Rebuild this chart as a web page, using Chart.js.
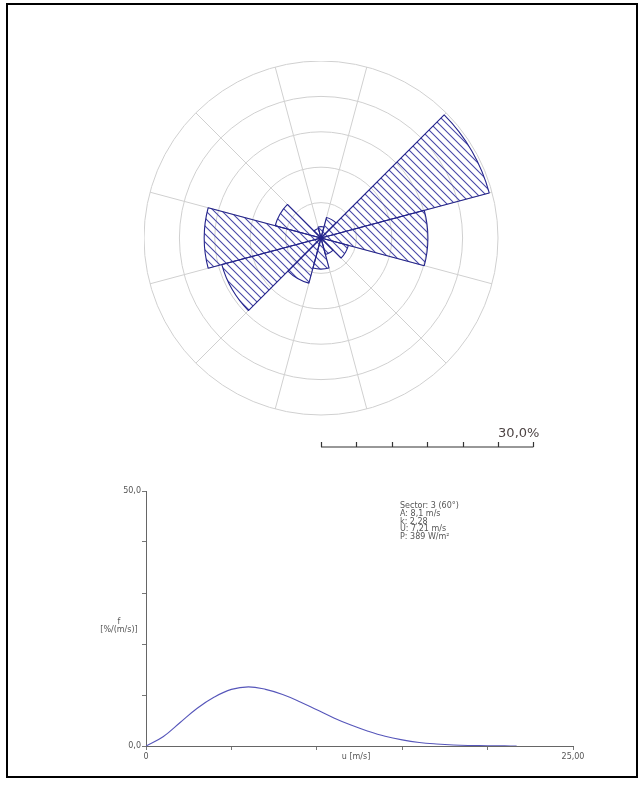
<!DOCTYPE html>
<html>
<head>
<meta charset="utf-8">
<script src="https://cdn.jsdelivr.net/npm/chart.js@4.4.1/dist/chart.umd.min.js"></script>
<style>
  html, body { margin: 0; padding: 0; background: #fff; }
  body { width: 644px; height: 785px; position: relative; overflow: hidden; font-family: "DejaVu Sans", Verdana, sans-serif; }
  #frame { position: absolute; left: 6px; top: 3px; width: 632px; height: 775px; border: 2px solid #000; box-sizing: border-box; }
  #roseBox { position: absolute; left: 144px; top: 61px; width: 410px; height: 400px; }
  #weibullBox { position: absolute; left: 0; top: 470px; width: 644px; height: 300px; }
  #info { position: absolute; left: 400px; top: 502px; font-size: 8px; line-height: 7.8px; color: #555; white-space: pre; }
</style>
</head>
<body>
<div id="frame"></div>
<div id="roseBox"><canvas id="rose" width="410" height="400"></canvas></div>
<div id="weibullBox"><canvas id="weibull" width="644" height="300"></canvas></div>
<div id="info"></div>

<script>
// wind rose: 12 sectors, frequency in %
const sectorLabels = ["0°", "30°", "60°", "90°", "120°", "150°", "180°", "210°", "240°", "270°", "300°", "330°"];
const sectorFreq = [1.6, 3.0, 24.6, 15.1, 4.0, 2.4, 4.4, 6.6, 14.5, 16.5, 6.7, 1.4];
const roseMax = 25;
const roseStep = 5;
const scaleBarTicks = [0, 5, 10, 15, 20, 25, 30];
const scaleBarLabel = "30,0%";

// weibull curve for the selected sector
const windSpeed = [0, 1, 2, 3, 4, 5, 6, 7, 8, 9, 10, 11, 12, 13, 14, 15, 16, 17, 18, 19, 20, 21, 21.7];
const freqDensity = [0, 1.8, 4.6, 7.4, 9.6, 11.1, 11.6, 11.1, 10.1, 8.7, 7.1, 5.5, 4.1, 2.9, 1.9, 1.2, 0.7, 0.4, 0.2, 0.1, 0.05, 0.02, 0.01];
const infoLines = ["Sector: 3 (60°)", "A: 8,1 m/s", "k: 2,28", "U: 7,21 m/s", "P: 389 W/m²"];

document.getElementById("info").textContent = infoLines.join("\n");

function makeHatch(ctx) {
  const c = document.createElement("canvas");
  c.width = 8;
  c.height = 8;
  const g = c.getContext("2d");
  g.strokeStyle = "#4848a8";
  g.lineWidth = 1.1;
  g.beginPath();
  g.moveTo(0, 0); g.lineTo(8, 8);
  g.moveTo(-2, 6); g.lineTo(2, 10);
  g.moveTo(6, -2); g.lineTo(10, 2);
  g.stroke();
  return ctx.createPattern(c, "repeat");
}

// scale bar under the rose, drawn from the radial scale
const scaleBarPlugin = {
  id: "scaleBar",
  afterDraw(chart) {
    const s = chart.scales.r;
    const ctx = chart.ctx;
    const cx = s.xCenter;
    const y = s.yCenter + 209;
    const xEnd = cx + s.getDistanceFromCenterForValue(scaleBarTicks[scaleBarTicks.length - 1]);
    ctx.save();
    ctx.strokeStyle = "#333";
    ctx.lineWidth = 1.2;
    ctx.beginPath();
    ctx.moveTo(cx, y);
    ctx.lineTo(xEnd, y);
    scaleBarTicks.forEach(v => {
      const x = Math.round(cx + s.getDistanceFromCenterForValue(v)) + 0.5;
      ctx.moveTo(x, y);
      ctx.lineTo(x, y - 5);
    });
    ctx.stroke();
    ctx.fillStyle = "#4d4444";
    ctx.font = "13px 'DejaVu Sans'";
    ctx.textAlign = "right";
    ctx.textBaseline = "alphabetic";
    ctx.fillText(scaleBarLabel, xEnd + 6, y - 10);
    ctx.restore();
  }
};

const roseCtx = document.getElementById("rose").getContext("2d");
const hatch = makeHatch(roseCtx);

new Chart(roseCtx, {
  type: "polarArea",
  data: {
    labels: sectorLabels,
    datasets: [{
      data: sectorFreq,
      backgroundColor: hatch,
      hoverBackgroundColor: hatch,
      borderColor: "#24248c",
      hoverBorderColor: "#24248c",
      borderWidth: 1.1
    }]
  },
  options: {
    responsive: false,
    devicePixelRatio: 1,
    animation: false,
    events: [],
    layout: { padding: { left: 0, top: 0, right: 56, bottom: 46 } },
    plugins: { legend: { display: false }, tooltip: { enabled: false } },
    scales: {
      r: {
        min: 0,
        max: roseMax,
        startAngle: -15,
        ticks: { display: false, stepSize: roseStep },
        grid: { circular: true, color: "#d0d0d0", lineWidth: 1 },
        angleLines: { display: true, color: "#d0d0d0", lineWidth: 1 },
        pointLabels: { display: false }
      }
    }
  },
  plugins: [scaleBarPlugin]
});

// axis titles of the lower chart sit next to the tick labels
const axisTextPlugin = {
  id: "axisText",
  afterDraw(chart) {
    const ctx = chart.ctx;
    const xs = chart.scales.x;
    const ys = chart.scales.y;
    ctx.save();
    ctx.fillStyle = "#555";
    ctx.font = "8px 'DejaVu Sans'";
    ctx.textAlign = "center";
    ctx.textBaseline = "middle";
    ctx.fillText("u [m/s]", xs.getPixelForValue(12.3), chart.chartArea.bottom + 11);
    const yT = ys.getPixelForValue(24.4);
    ctx.fillText("f", 119, yT);
    ctx.fillText("[%/(m/s)]", 119, yT + 8);
    ctx.restore();
  }
};

new Chart(document.getElementById("weibull"), {
  type: "line",
  data: {
    datasets: [{
      data: windSpeed.map((u, i) => ({ x: u, y: freqDensity[i] })),
      borderColor: "#5656ba",
      borderWidth: 1.1,
      pointRadius: 0,
      fill: false,
      tension: 0.4
    }]
  },
  options: {
    responsive: false,
    devicePixelRatio: 1,
    animation: false,
    events: [],
    layout: { padding: { left: 0, top: 21, right: 71, bottom: 0 } },
    plugins: { legend: { display: false }, tooltip: { enabled: false } },
    scales: {
      x: {
        type: "linear",
        min: 0,
        max: 25,
        afterFit: s => { s.height = 24; },
        ticks: {
          stepSize: 5,
          color: "#555",
          font: { family: "DejaVu Sans", size: 8 },
          padding: 2,
          maxRotation: 0,
          callback: v => v === 0 ? "0" : v === 25 ? "25,00" : ""
        },
        grid: { drawOnChartArea: false, tickLength: 4, color: "#777" },
        border: { color: "#666", width: 1 }
      },
      y: {
        min: 0,
        max: 50,
        afterFit: s => { s.width = 146; },
        ticks: {
          stepSize: 10,
          color: "#555",
          font: { family: "DejaVu Sans", size: 8 },
          padding: 1,
          callback: v => v === 50 ? "50,0" : v === 0 ? "0,0" : ""
        },
        grid: { drawOnChartArea: false, tickLength: 4, color: "#777" },
        border: { color: "#666", width: 1 }
      }
    }
  },
  plugins: [axisTextPlugin]
});
</script>
</body>
</html>
